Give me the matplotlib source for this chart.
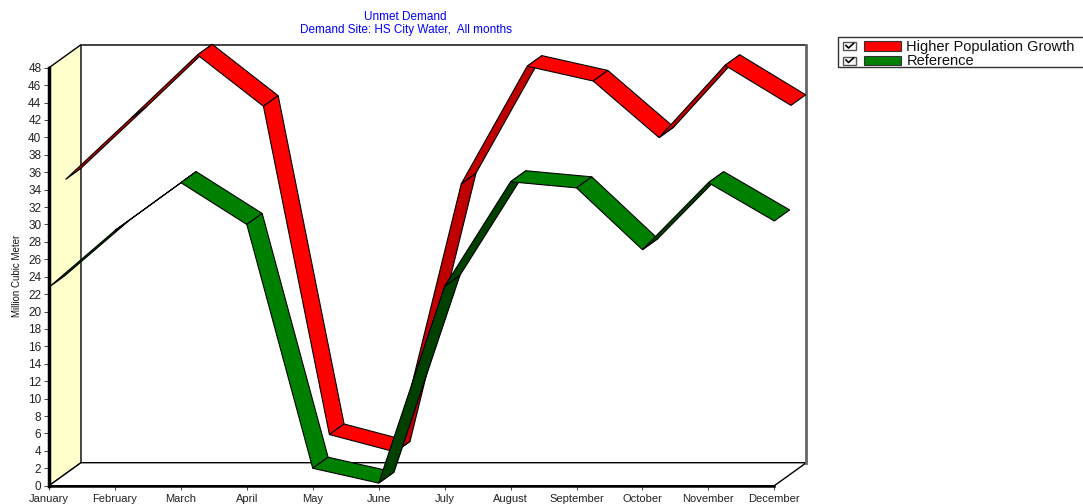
import matplotlib
matplotlib.use('Agg')
import matplotlib.pyplot as plt
from matplotlib.patches import Polygon, Rectangle
from matplotlib.lines import Line2D

plt.rcParams['font.family'] = ['Liberation Sans', 'DejaVu Sans']

months = ['January', 'February', 'March', 'April', 'May', 'June', 'July',
          'August', 'September', 'October', 'November', 'December']
higher_pop = [33.8, 40.9, 48.1, 42.2, 4.5, 2.5, 33.3, 46.8, 45.1, 38.6, 46.9, 42.3]
reference = [22.8, 29.3, 34.8, 30.0, 2.0, 0.3, 22.9, 34.9, 34.2, 27.1, 34.8, 30.4]

series_names = ['Higher Population Growth', 'Reference']
series_values = [higher_pop, reference]
top_colors = ['#FF0000', '#008000']
under_colors = ['#C00000', '#004000']
depth_slots = [(0.52, 0.98), (0.0, 0.48)]   # red sits behind green

yticks = list(range(0, 50, 2))
ymax = 48

W, H = 1083, 504
DX, DY = 0.485, 2.64   # depth of the 3d box in data units


def fx(px):
    return px / W


def fy(py):
    return 1 - py / H


fig = plt.figure(figsize=(W / 100, H / 100), dpi=100)
ax = fig.add_axes([fx(49), fy(485.7), 65.94 * (11 + DX) / W, 8.708 * (ymax + DY) / H])
ax.set_xlim(0, 11 + DX)
ax.set_ylim(0, ymax + DY)

for s in ['top', 'right']:
    ax.spines[s].set_visible(False)
ax.spines['left'].set_bounds(0, ymax)
ax.spines['left'].set_linewidth(2.5)
ax.spines['bottom'].set_bounds(0, 11)
ax.spines['bottom'].set_linewidth(1.8)
ax.spines['left'].set_zorder(5)
ax.spines['bottom'].set_zorder(5)

ax.set_yticks(yticks)
ax.set_yticklabels([str(t) for t in yticks], fontsize=8.5)
ax.set_xticks(range(len(months)))
ax.set_xticklabels(months, fontsize=8)
ax.tick_params(axis='y', length=3.5, width=0.7, pad=2, colors='#444444', labelcolor='#222222')
ax.tick_params(axis='x', length=3, width=0.7, pad=3, colors='#444444', labelcolor='#222222')
fig.text(fx(16.7), fy(276), 'Million Cubic Meter', fontsize=7, rotation=90,
         ha='center', va='center', color='#111111')

# box: left wall, floor, back wall
n = len(months) - 1
ax.add_patch(Polygon([(0, 0), (DX, DY), (DX, ymax + DY), (0, ymax)], closed=True,
                     facecolor='#FFFFCC', edgecolor='black', lw=1, zorder=1, clip_on=False))
ax.add_patch(Polygon([(0, 0), (n, 0), (n + DX, DY), (DX, DY)], closed=True,
                     facecolor='white', edgecolor='black', lw=1, zorder=1, clip_on=False))
ax.plot([DX, n + DX], [ymax + DY, ymax + DY], color='#222222', lw=1.2, zorder=1, clip_on=False)
ax.plot([n + DX, n + DX], [DY, ymax + DY], color='#666666', lw=2, zorder=1, clip_on=False)

# ribbons
fig.canvas.draw()
pd = ax.transData.transform((DX, DY)) - ax.transData.transform((0, 0))
for k, vals in enumerate(series_values):
    z0, z1 = depth_slots[k]
    for i in range(n):
        a = (i, vals[i])
        b = (i + 1, vals[i + 1])
        seg = ax.transData.transform(b) - ax.transData.transform(a)
        cross = seg[0] * pd[1] - seg[1] * pd[0]
        col = top_colors[k] if cross > 0 else under_colors[k]
        pts = [(a[0] + z0 * DX, a[1] + z0 * DY), (b[0] + z0 * DX, b[1] + z0 * DY),
               (b[0] + z1 * DX, b[1] + z1 * DY), (a[0] + z1 * DX, a[1] + z1 * DY)]
        ax.add_patch(Polygon(pts, closed=True, facecolor=col, edgecolor='black',
                             lw=0.8, zorder=2 + k, clip_on=False))

# titles
fig.text(fx(405.5), fy(17.3), 'Unmet Demand', color='#0000FF', fontsize=8.5,
         ha='center', va='center')
fig.text(fx(405.5), fy(29.5), 'Demand Site: HS City Water,  All months', color='#0000FF',
         fontsize=8.5, ha='center', va='center')

# legend
fig.patches.append(Rectangle((fx(838.3), fy(67.3)), fx(1090) - fx(838.3), fy(36.7) - fy(67.3),
                             transform=fig.transFigure, facecolor='white',
                             edgecolor='#333333', lw=1, figure=fig))
for k, name in enumerate(series_names):
    yc = 46 + 14.5 * k
    fig.patches.append(Rectangle((fx(843.3), fy(yc + 4)), fx(12.7), 8 / H,
                                 transform=fig.transFigure, facecolor='white',
                                 edgecolor='#555555', lw=1, figure=fig))
    fig.lines.append(Line2D([fx(846), fx(848.5), fx(853.5)], [fy(yc - 0.5), fy(yc + 2), fy(yc - 2.5)],
                            transform=fig.transFigure, color='black', lw=1.2, figure=fig))
    fig.patches.append(Rectangle((fx(863.5), fy(yc + 4.5)), fx(37), 9 / H,
                                 transform=fig.transFigure, facecolor=top_colors[k],
                                 edgecolor='#333333', lw=0.8, figure=fig))
    fig.text(fx(906.5), fy(yc + 0.5), name, fontsize=10.5, ha='left', va='center', color='#111111')

fig.savefig('out.png', dpi=100)
